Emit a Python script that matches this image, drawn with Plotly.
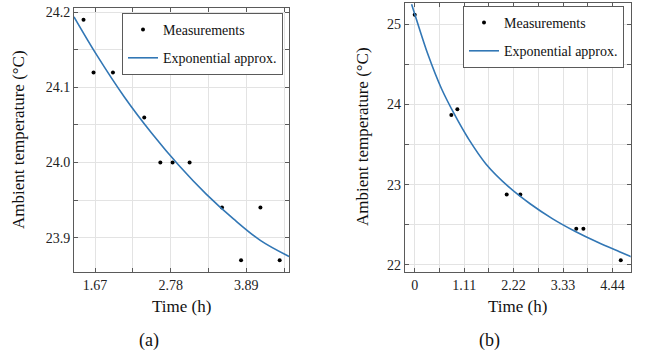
import plotly.graph_objects as go

# ---- data (a) ----
t_meas_a = [1.498, 1.645, 1.93, 2.39, 2.626, 2.806, 3.056, 3.532, 3.812, 4.096, 4.379]
T_meas_a = [24.19, 24.12, 24.12, 24.06, 24.00, 24.00, 24.00, 23.94, 23.87, 23.94, 23.87]
t_fit_a = [1.358, 1.7, 2.1, 2.5, 2.9, 3.3, 3.7, 4.1, 4.516]
T_fit_a = [24.194, 24.142, 24.087, 24.039, 23.996, 23.958, 23.925, 23.896, 23.875]
xtick_vals_a = [1.1111, 1.6667, 2.2222, 2.7778, 3.3333, 3.8889, 4.4444]
xtick_text_a = ["", "1.67", "", "2.78", "", "3.89", ""]
ytick_vals_a = [23.85, 23.9, 23.95, 24.0, 24.05, 24.1, 24.15, 24.2]
ytick_text_a = ["", "23.9", "", "24.0", "", "24.1", "", "24.2"]

# ---- data (b) ----
t_meas_b = [0.0, 0.823, 0.958, 2.067, 2.373, 3.63, 3.79, 4.63]
T_meas_b = [25.12, 23.87, 23.94, 22.88, 22.88, 22.45, 22.45, 22.06]
t_fit_b = [-0.07, 0.0, 0.3, 0.6, 0.9, 1.2, 1.6, 2.1, 2.6, 3.1, 3.6, 4.1, 4.6, 4.876]
T_fit_b = [25.25, 25.13, 24.62, 24.20, 23.87, 23.58, 23.26, 22.98, 22.76, 22.575, 22.42, 22.285, 22.165, 22.10]
xtick_vals_b = [0.0, 0.5556, 1.1111, 1.6667, 2.2222, 2.7778, 3.3333, 3.8889, 4.4444]
xtick_text_b = ["0", "", "1.11", "", "2.22", "", "3.33", "", "4.44"]
ytick_vals_b = [22.0, 22.5, 23.0, 23.5, 24.0, 24.5, 25.0]
ytick_text_b = ["22", "", "23", "", "24", "", "25"]

W, H = 646, 356
FONT = "Liberation Serif"
BLUE = "#3277b5"
FRAME = "#5a5a5a"
GRID = "#e3e3e3"

fig = go.Figure()

fig.add_trace(go.Scatter(x=t_meas_a, y=T_meas_a, mode="markers", name="Measurements",
                         marker=dict(color="black", size=4), xaxis="x", yaxis="y",
                         legend="legend", legendgroup="m"))
fig.add_trace(go.Scatter(x=t_fit_a, y=T_fit_a, mode="lines", name="Exponential approx.",
                         line=dict(color=BLUE, width=1.6, shape="spline", smoothing=1.0),
                         xaxis="x", yaxis="y", legend="legend", legendgroup="f"))
fig.add_trace(go.Scatter(x=t_meas_b, y=T_meas_b, mode="markers", name="Measurements",
                         marker=dict(color="black", size=4), xaxis="x2", yaxis="y2",
                         legend="legend2", legendgroup="m2"))
fig.add_trace(go.Scatter(x=t_fit_b, y=T_fit_b, mode="lines", name="Exponential approx.",
                         line=dict(color=BLUE, width=1.6, shape="spline", smoothing=1.0),
                         xaxis="x2", yaxis="y2", legend="legend2", legendgroup="f2"))

def axis(domain, rng, vals, text, anchor):
    return dict(domain=domain, range=rng, tickmode="array", tickvals=vals, ticktext=text,
                showgrid=True, gridcolor=GRID, gridwidth=1, zeroline=False,
                showline=True, linecolor=FRAME, linewidth=1, mirror="ticks",
                ticks="inside", ticklen=4, tickcolor=FRAME, anchor=anchor,
                tickfont=dict(family=FONT, size=14, color="#222"))

xa0, xa1 = 74 / W, 289 / W
xb0, xb1 = 404.7 / W, 630.7 / W
ya0, ya1 = 1 - 271.7 / H, 1 - 8 / H
yb0, yb1 = 1 - 271.7 / H, 1 - 3 / H

leg = dict(font=dict(family=FONT, size=14, color="#111"), bordercolor=FRAME, borderwidth=1,
           bgcolor="white", xanchor="left", yanchor="top", tracegroupgap=7,
           itemwidth=30)

fig.update_layout(
    width=W, height=H, margin=dict(l=0, r=0, t=0, b=0, autoexpand=False),
    paper_bgcolor="white", plot_bgcolor="white", showlegend=True,
    font=dict(family=FONT, color="#111"),
    xaxis=axis([xa0, xa1], [1.358, 4.516], xtick_vals_a, xtick_text_a, "y"),
    yaxis=axis([ya0, ya1], [23.8547, 24.2057], ytick_vals_a, ytick_text_a, "x"),
    xaxis2=axis([xb0, xb1], [-0.225, 4.853], xtick_vals_b, xtick_text_b, "y2"),
    yaxis2=axis([yb0, yb1], [21.916, 25.266], ytick_vals_b, ytick_text_b, "x2"),
    legend=dict(leg, x=122 / W, y=1 - 13 / H),
    legend2=dict(leg, x=463 / W, y=1 - 6 / H),
)

ann_font = dict(family=FONT, size=17, color="#111")
anns = [
    dict(text="Time (h)", x=181.5 / W, y=1 - 306.7 / H),
    dict(text="Time (h)", x=517.7 / W, y=1 - 306.7 / H),
    dict(text="Ambient temperature (°C)", x=18 / W, y=1 - 140 / H, textangle=-90),
    dict(text="Ambient temperature (°C)", x=362 / W, y=1 - 137 / H, textangle=-90),
    dict(text="(a)", x=149.3 / W, y=1 - 340 / H, font=dict(family=FONT, size=18, color="#111")),
    dict(text="(b)", x=489.7 / W, y=1 - 340 / H, font=dict(family=FONT, size=18, color="#111")),
]
for a in anns:
    fig.add_annotation(xref="paper", yref="paper", showarrow=False,
                       xanchor="center", yanchor="middle",
                       font=a.pop("font", ann_font), **a)

fig.write_html("out.html", config={"displayModeBar": False},
               post_script="document.body.style.margin='0px';document.body.style.overflow='hidden';")
